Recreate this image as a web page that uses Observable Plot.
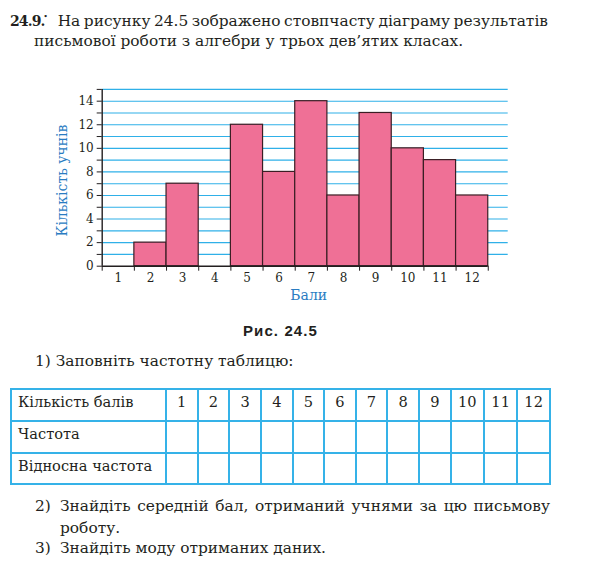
<!DOCTYPE html>
<html><head><meta charset="utf-8">
<script src="https://cdn.jsdelivr.net/npm/d3@7"></script>
<script src="https://cdn.jsdelivr.net/npm/@observablehq/plot@0.6"></script>
<style>
html,body{margin:0;padding:0;background:#fff;}
#page{position:relative;width:594px;height:575px;overflow:hidden;font-family:"DejaVu Serif",serif;color:#231f20;}
.t{position:absolute;white-space:nowrap;font-size:15.4px;line-height:20px;}
.cell{position:absolute;box-sizing:border-box;border:2px solid #35b2e8;}
#chart{position:absolute;left:0;top:80px;}
</style></head><body><div id="page"><div id="chart"></div></div>
<script>
// ---- data ----
const scores = [1, 2, 3, 4, 5, 6, 7, 8, 9, 10, 11, 12];
const counts = [0, 2, 7, 0, 12, 8, 14, 6, 13, 10, 9, 6];
const yTicks = [0, 1, 2, 3, 4, 5, 6, 7, 8, 9, 10, 11, 12, 13, 14, 15];
const yLabelTicks = [0, 2, 4, 6, 8, 10, 12, 14];
const xLabel = "Бали";
const yLabel = "Кількість учнів";
const rowLabels = ["Кількість балів", "Частота", "Відносна частота"];

// ---- chart ----
const data = scores.map((s, i) => ({score: s, count: counts[i]}));
const edges = [...scores.map(s => s - 0.5), scores[scores.length - 1] + 0.5];
const gridEnd = 13.12;
const ink = "#231f20";
const blue = "#2a7cc2";

const chart = Plot.plot({
  width: 594, height: 230,
  marginLeft: 101.7, marginRight: 86.3, marginTop: 8.9, marginBottom: 44.3,
  style: {fontFamily: "DejaVu Serif", fontSize: "12px", color: ink, background: "transparent", overflow: "visible"},
  x: {type: "linear", domain: [0.5, gridEnd]},
  y: {domain: [0, 15]},
  marks: [
    Plot.ruleY(yTicks.filter(v => v > 0), {x1: 0.5, x2: gridEnd, stroke: "#2fb0e8", strokeWidth: 1.1}),
    Plot.rect(data.filter(d => d.count > 0), {x1: d => d.score - 0.5, x2: d => d.score + 0.5, y1: 0, y2: "count", fill: "#ef7096", stroke: "#3a1e24", strokeWidth: 1.2}),
    Plot.ruleY([0], {x1: edges[0], x2: edges[edges.length - 1], stroke: ink, strokeWidth: 1.4}),
    Plot.ruleX([edges[0]], {y1: 0, y2: 15, stroke: ink, strokeWidth: 1.4}),
    Plot.axisY(yTicks, {anchor: "left", tickSize: 5, tickPadding: 3.5, tickFormat: d => yLabelTicks.includes(d) ? String(d) : "", label: null}),
    Plot.axisX(edges, {anchor: "bottom", tickSize: 5, tickFormat: () => "", label: null}),
    Plot.axisX(scores, {anchor: "bottom", tickSize: 0, tickPadding: 7.5, label: null}),
    Plot.text([yLabel], {text: d => d, frameAnchor: "left", rotate: -90, textAnchor: "middle", lineAnchor: "middle", dx: -39.5, dy: 2.7, fill: blue, fontSize: 14}),
    Plot.text([xLabel], {text: d => d, frameAnchor: "bottom", textAnchor: "middle", lineAnchor: "middle", dx: 3.5, dy: 29.5, fill: blue, fontSize: 14})
  ]
});
document.getElementById("chart").appendChild(chart);

// ---- page text ----
const page = document.getElementById("page");
function line(text, left, baseline, opts = {}) {
  const d = document.createElement("div");
  d.className = "t";
  d.style.left = left + "px";
  d.style.top = (baseline - 15.4) + "px";
  if (opts.bold) d.style.fontWeight = "bold";
  if (opts.font) d.style.fontFamily = opts.font;
  if (opts.size) d.style.fontSize = opts.size + "px";
  if (opts.ls != null) d.style.letterSpacing = opts.ls + "px";
  if (opts.center != null) { d.style.width = opts.center + "px"; d.style.textAlign = "center"; }
  const s = document.createElement("span");
  s.textContent = text;
  d.appendChild(s);
  page.appendChild(d);
  if (opts.target) {
    const w = s.getBoundingClientRect().width;
    const n = (text.match(/ /g) || []).length;
    if (n) d.style.wordSpacing = ((opts.target - w) / n) + "px";
  }
  return d;
}

line("24.9.", 10, 26.7, {bold: true, size: 14, ls: -0.9});
line("•", 43.2, 22.5, {size: 8});
line("На рисунку 24.5 зображено стовпчасту діаграму результатів", 57.7, 26.7, {target: 490.3});
line("письмової роботи з алгебри у трьох дев’ятих класах.", 34, 46.7);
line("Рис. 24.5", 230, 336.7, {bold: true, font: "Liberation Sans", size: 15, center: 101, ls: 1.1});
line("1) Заповніть частотну таблицю:", 35, 366.7);
line("2)", 35, 511.7);
line("Знайдіть середній бал, отриманий учнями за цю письмову", 60, 511.7, {target: 490});
line("роботу.", 60, 533);
line("3)", 35, 553.5);
line("Знайдіть моду отриманих даних.", 60, 553.5);

// ---- table ----
const colB = [11, 165.7, 197.7, 229.3, 261, 292.7, 324, 355.7, 387.3, 419, 450.7, 484, 517.3, 550];
const rowB = [389.3, 420.7, 452.7, 484];
const baselines = [407.7, 439.3, 471];
for (let r = 0; r < rowB.length - 1; r++) {
  for (let c = 0; c < colB.length - 1; c++) {
    const d = document.createElement("div");
    d.className = "cell";
    d.style.left = (colB[c] - 1) + "px";
    d.style.top = (rowB[r] - 1) + "px";
    d.style.width = (colB[c + 1] - colB[c] + 2) + "px";
    d.style.height = (rowB[r + 1] - rowB[r] + 2) + "px";
    page.appendChild(d);
  }
  line(rowLabels[r], 18, baselines[r], {size: 14.6});
}
scores.forEach((s, i) => {
  line(String(s), colB[i + 1], baselines[0], {center: colB[i + 2] - colB[i + 1], size: 14.6});
});
</script>
</body></html>
